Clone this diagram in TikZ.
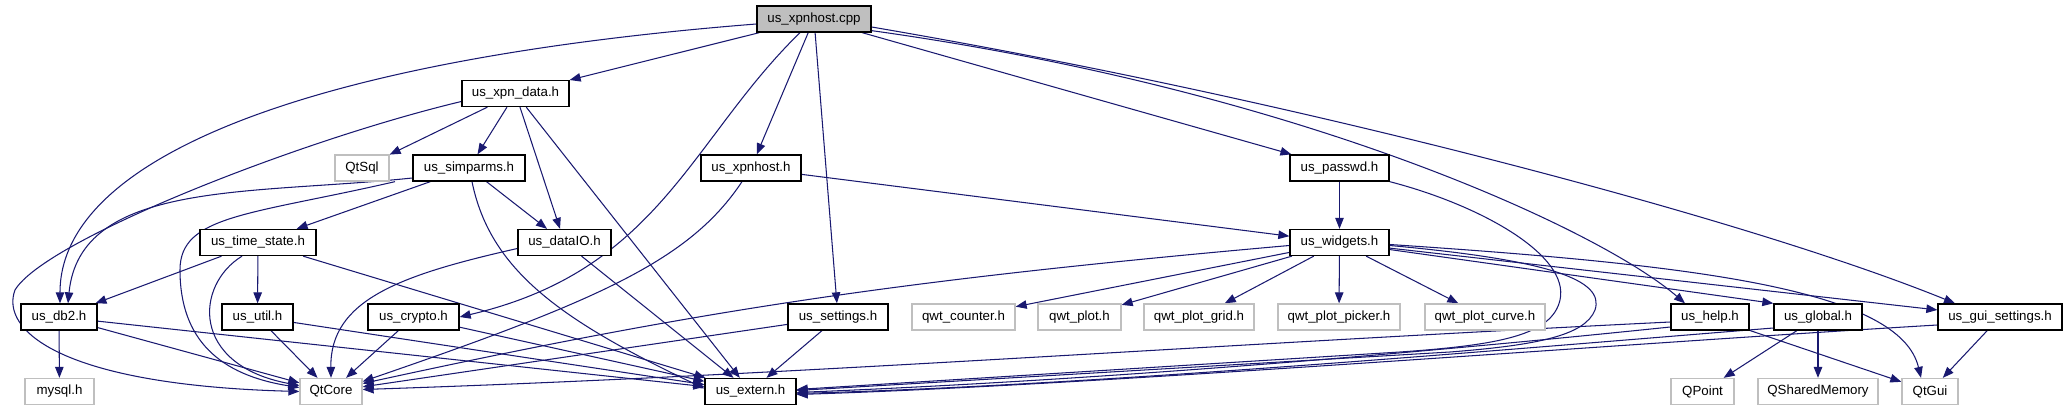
\documentclass[tikz,border=0pt]{standalone}
\usepackage{fontspec}
\setmainfont{Liberation Sans}
\usetikzlibrary{arrows.meta}
\definecolor{edgec}{HTML}{191970}
\definecolor{extc}{HTML}{BFBFBF}
\definecolor{cppfill}{HTML}{BFBFBF}
\pgfdeclarelayer{bg}
\pgfsetlayers{bg,main}
\begin{document}
\begin{tikzpicture}[x=1pt,y=-1pt,
  nd/.style={draw=black, line width=1.3pt, fill=white, inner sep=0pt, minimum height=26pt, font=\fontsize{13.3}{15}\selectfont},
  ext/.style={nd, draw=extc},
  src/.style={nd, fill=cppfill},
  edge/.style={draw=edgec, line width=1.05pt, -{Triangle[length=11pt,width=8.5pt]}}]
\useasboundingbox (0,0) rectangle (2067,411);
% nodes
\node[src, minimum width=114pt] (cpp) at (814,19) {us\_xpnhost.cpp};
\node[nd, minimum width=107pt] (xpndata) at (515.5,93.5) {us\_xpn\_data.h};
\node[ext, minimum width=54pt] (qtsql) at (362,168) {QtSql};
\node[nd, minimum width=112pt] (simparms) at (469,168) {us\_simparms.h};
\node[nd, minimum width=100pt] (xpnhosth) at (751,168) {us\_xpnhost.h};
\node[nd, minimum width=99pt] (passwd) at (1339.5,168) {us\_passwd.h};
\node[nd, minimum width=116pt] (timestate) at (258,242.5) {us\_time\_state.h};
\node[nd, minimum width=93pt] (datalo) at (564.5,242.5) {us\_dataIO.h};
\node[nd, minimum width=99pt] (widgets) at (1339.5,242.5) {us\_widgets.h};
\node[nd, minimum width=76pt] (db2) at (59,317) {us\_db2.h};
\node[nd, minimum width=71pt] (util) at (257.5,317) {us\_util.h};
\node[nd, minimum width=91pt] (crypto) at (413.5,317) {us\_crypto.h};
\node[nd, minimum width=100pt] (settings) at (838,317) {us\_settings.h};
\node[ext, minimum width=103pt] (qwtcounter) at (963.5,317) {qwt\_counter.h};
\node[ext, minimum width=83pt] (qwtplot) at (1079.5,317) {qwt\_plot.h};
\node[ext, minimum width=110pt] (qwtgrid) at (1199,317) {qwt\_plot\_grid.h};
\node[ext, minimum width=122pt] (qwtpicker) at (1339,317) {qwt\_plot\_picker.h};
\node[ext, minimum width=120pt] (qwtcurve) at (1485,317) {qwt\_plot\_curve.h};
\node[nd, minimum width=78pt] (help) at (1710,317) {us\_help.h};
\node[nd, minimum width=88pt] (global) at (1818,317) {us\_global.h};
\node[nd, minimum width=124pt] (guisettings) at (2000,317) {us\_gui\_settings.h};
\node[ext, minimum width=69pt] (mysql) at (59.5,391.5) {mysql.h};
\node[ext, minimum width=62pt] (qtcore) at (331,391.5) {QtCore};
\node[nd, minimum width=91pt] (extern) at (750.5,391.5) {us\_extern.h};
\node[ext, minimum width=63pt] (qpoint) at (1702.5,391.5) {QPoint};
\node[ext, minimum width=120pt] (qshared) at (1818,391.5) {QSharedMemory};
\node[ext, minimum width=56pt] (qtgui) at (1930,391.5) {QtGui};
\begin{pgfonlayer}{bg}
% cpp
\draw[edge] (cpp) -- (xpndata);
\draw[edge] ([yshift=-5pt]cpp.west) .. controls (300,60) and (60,160) .. ([xshift=1pt]db2.north);
\draw[edge] ([xshift=-14pt]cpp.south) .. controls (690,140) and (660,270) .. (crypto.east);
\draw[edge] (cpp) -- (xpnhosth);
\draw[edge] (cpp) -- (settings);
\draw[edge] (cpp) -- (passwd);
\draw[edge] ([yshift=2pt]cpp.south east) .. controls (1300,90) and (1600,230) .. ([xshift=-25pt]help.north);
\draw[edge] ([yshift=-8pt]cpp.east) .. controls (1300,100) and (1750,220) .. ([xshift=-45pt]guisettings.north);
% xpndata
\draw[edge] (xpndata) -- (qtsql);
\draw[edge] (xpndata) -- (simparms);
\draw[edge] (xpndata) -- (datalo);
\draw[edge] (xpndata) -- (extern);
\draw[edge] ([yshift=-8pt]xpndata.west) .. controls (300,140) and (45,240) .. (15,290) .. controls (0,330) and (60,385) .. (qtcore.west);
% simparms
\draw[edge] ([yshift=-10pt]simparms.west) .. controls (250,195) and (80,180) .. ([xshift=9pt]db2.north);
\draw[edge] ([xshift=-74pt]simparms.south) .. controls (250,215) and (180,215) .. (180,270) .. controls (180,340) and (220,375) .. ([yshift=4pt]qtcore.west);
\draw[edge] (simparms) -- (timestate);
\draw[edge] (simparms) -- (datalo);
\draw[edge] ([xshift=3pt]simparms.south) .. controls (490,270) and (560,320) .. ([yshift=3pt]extern.west);
% timestate
\draw[edge] (timestate) -- (db2);
\draw[edge] (timestate) -- (util);
\draw[edge] ([xshift=-16pt]timestate.south) .. controls (195,285) and (190,365) .. ([yshift=6pt]qtcore.west);
\draw[edge] (timestate) -- (extern);
% datalo
\draw[edge] ([yshift=-6pt]datalo.west) .. controls (400,275) and (330,300) .. (qtcore.north);
\draw[edge] (datalo) -- (extern);
% db2
\draw[edge] (db2) -- (mysql);
\draw[edge] (db2) -- (qtcore);
\draw[edge] (db2) -- (extern);
% util, crypto
\draw[edge] (util) -- (qtcore);
\draw[edge] (util) -- (extern);
\draw[edge] (crypto) -- (qtcore);
\draw[edge] (crypto) -- (extern);
% xpnhost.h
\draw[edge] (xpnhosth) -- (widgets);
\draw[edge] ([xshift=-9pt]xpnhosth.south) .. controls (690,260) and (600,300) .. ([yshift=10pt]qtcore.east);
% settings
\draw[edge] (settings) -- (qtcore);
\draw[edge] (settings) -- (extern);
% passwd
\draw[edge] (passwd) -- (widgets);
\draw[edge] (passwd.south east) .. controls (1480,205) and (1570,255) .. (1560,300) .. controls (1552,335) and (1500,345) .. (1400,352) -- ([yshift=2pt]extern.east);
% widgets
\draw[edge] ([yshift=-3pt]widgets.west) .. controls (900,280) and (700,310) .. ([yshift=8pt]qtcore.east);
\draw[edge] (widgets) -- (qwtcounter);
\draw[edge] (widgets) -- (qwtplot);
\draw[edge] (widgets) -- (qwtgrid);
\draw[edge] (widgets) -- (qwtpicker);
\draw[edge] (widgets) -- (qwtcurve);
\draw[edge] ([yshift=-3pt]widgets.east) .. controls (1550,260) and (1605,280) .. (1595,310) .. controls (1585,335) and (1540,345) .. (1450,352) -- ([yshift=1pt]extern.east);
\draw[edge] (widgets) -- (global.north west);
\draw[edge] (widgets) -- (guisettings);
\draw[edge] ([yshift=-2pt]widgets.east) .. controls (1700,265) and (1900,290) .. ([xshift=-9pt]qtgui.north);
% help
\draw[edge] ([yshift=-5pt]help.west) .. controls (1200,345) and (800,375) .. ([yshift=2pt]qtcore.east);
\draw[edge] ([yshift=-10pt]help.west) .. controls (1400,355) and (1100,380) .. ([yshift=-1pt]extern.east);
\draw[edge] (help) -- (qtgui);
% global
\draw[edge] (global) -- (qpoint);
\draw[edge] (global) -- (qshared);
\draw[edge] ([yshift=-11pt]global.west) .. controls (1500,350) and (1100,385) .. ([yshift=-2pt]extern.east);
% gui settings
\draw[edge] (guisettings) -- (qtgui);
\draw[edge] ([yshift=-8pt]guisettings.west) .. controls (1600,345) and (1100,385) .. ([yshift=-3pt]extern.east);
\end{pgfonlayer}
\end{tikzpicture}
\end{document}
